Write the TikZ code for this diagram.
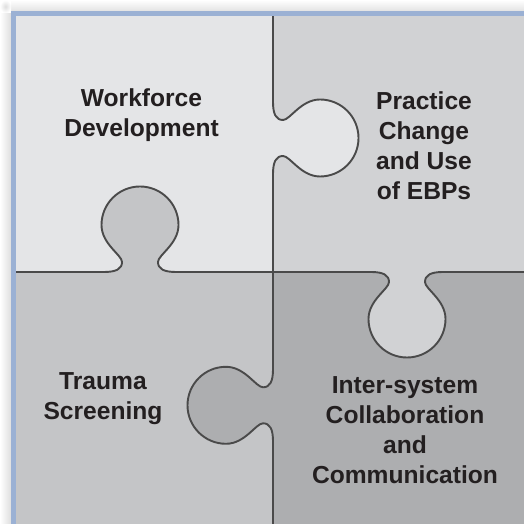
\documentclass[tikz,border=0pt]{standalone}
\usepackage{fontspec}
\setmainfont{Liberation Sans}
\definecolor{cTL}{HTML}{E4E5E7}
\definecolor{cTR}{HTML}{D1D2D4}
\definecolor{cBL}{HTML}{C4C5C7}
\definecolor{cBR}{HTML}{ADAEB0}
\definecolor{frameblue}{HTML}{9BB1D4}
\definecolor{edge}{HTML}{4A4A4A}
\definecolor{ink}{HTML}{231F20}
\newcommand\mkknob[1]{%
  \coordinate (#1-1) at (-36,0);
  \coordinate (#1-2) at (-24,0);
  \coordinate (#1-3) at (-18,3);
  \coordinate (#1-4) at (-18,10);
  \coordinate (#1-5) at (-18,17);
  \coordinate (#1-6) at (-38.5,28);
  \coordinate (#1-7) at (-38.5,47);
  \coordinate (#1-8) at (-38.5,68.26);
  \coordinate (#1-9) at (-21.26,85.5);
  \coordinate (#1-10) at (0,85.5);
  \coordinate (#1-11) at (21.26,85.5);
  \coordinate (#1-12) at (38.5,68.26);
  \coordinate (#1-13) at (38.5,47);
  \coordinate (#1-14) at (38.5,28);
  \coordinate (#1-15) at (18,17);
  \coordinate (#1-16) at (18,10);
  \coordinate (#1-17) at (18,3);
  \coordinate (#1-18) at (24,0);
  \coordinate (#1-19) at (36,0);}
\newcommand\knobrest[1]{.. controls (#1-2) and (#1-3) .. (#1-4) .. controls (#1-5) and (#1-6) .. (#1-7) .. controls (#1-8) and (#1-9) .. (#1-10) .. controls (#1-11) and (#1-12) .. (#1-13) .. controls (#1-14) and (#1-15) .. (#1-16) .. controls (#1-17) and (#1-18) .. (#1-19)}
\tikzset{
  divider/.style={draw=edge,line width=1.9pt,line join=round},
  label/.style={text=ink,align=center,anchor=base,inner sep=0pt,
    font=\bfseries\fontsize{24.6}{30.2}\selectfont}
}
\begin{document}
\begin{tikzpicture}[x=1pt,y=1pt]
\useasboundingbox (0,0) rectangle (524,524);
% shadow
\shade[left color=white,right color=black!13] (0,0) rectangle (11,511);
\shade[top color=white,bottom color=black!13] (11,511) rectangle (524,524);
\shade[inner color=black!13,outer color=white] (0,511) rectangle (11,524);
% quadrants
\fill[cTL] (13,252) rectangle (273,511);
\fill[cTR] (273,252) rectangle (524,511);
\fill[cBL] (13,0) rectangle (273,252);
\fill[cBR] (273,0) rectangle (524,252);
% knob coordinates
\begin{scope}[shift={(140,252)}]\mkknob{k1}\end{scope}
\begin{scope}[cm={0,-1,1,0,(273,386)}]\mkknob{k2}\end{scope}
\begin{scope}[cm={1,0,0,-1,(407,252)}]\mkknob{k3}\end{scope}
\begin{scope}[cm={0,-1,-1,0,(273,118.7)}]\mkknob{k4}\end{scope}
% knob fills
\fill[cBL] (k1-1) \knobrest{k1} -- cycle;
\fill[cTL] (k2-1) \knobrest{k2} -- cycle;
\fill[cTR] (k3-1) \knobrest{k3} -- cycle;
\fill[cBR] (k4-1) \knobrest{k4} -- cycle;
% dividers
\coordinate (hl) at (13,252);
\coordinate (hr) at (524,252);
\coordinate (vt) at (273,511);
\coordinate (vb) at (273,0);
\draw[divider] (hl) -- (k1-1) \knobrest{k1} -- (k3-1) \knobrest{k3} -- (hr);
\draw[divider] (vt) -- (k2-1) \knobrest{k2} -- (k4-1) \knobrest{k4} -- (vb);
% frame
\draw[frameblue,line width=5pt] (13.5,0) -- (13.5,510.5) -- (524,510.5);
% labels (anchored at the baseline of the last line)
\node[label] (wd) at (141.5,387) {Workforce\\Development};
\node[label] (pc) at (424,324) {Practice\\Change\\and Use\\of EBPs};
\node[label] (ts) at (103,104) {Trauma\\Screening};
\node[label] (ic) at (405,40) {Inter-system\\Collaboration\\and\\Communication};
\end{tikzpicture}
\end{document}
